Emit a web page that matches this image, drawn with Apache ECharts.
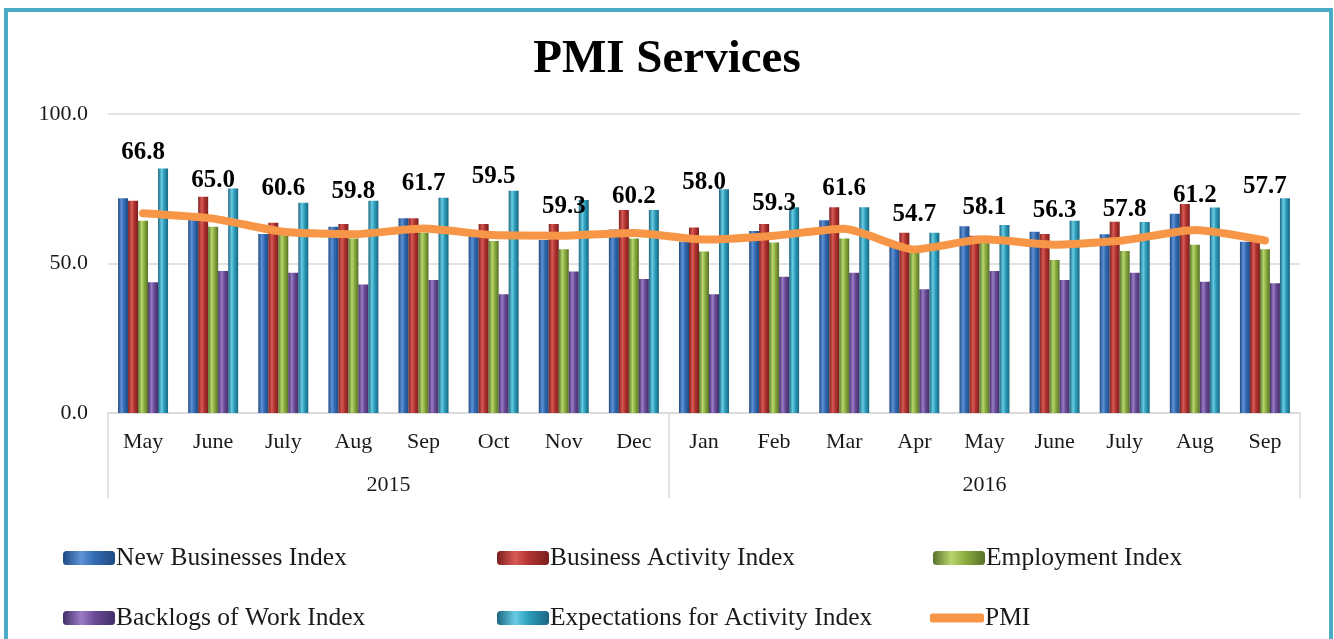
<!DOCTYPE html>
<html lang="en">
<head>
    <meta charset="UTF-8">
    <title>PMI Services</title>
    <script src="https://cdn.jsdelivr.net/npm/echarts@6.0.0/dist/echarts.min.js"></script>
    <style>
        body { margin: 0; background: #fff; }
        #frame { position: absolute; left: 4px; top: 8px; width: 1321px; height: 700px; border: 4px solid #4bacc6; }
        #main { position: absolute; left: 0; top: 0; width: 1334px; height: 639px; }
    </style>
</head>
<body>
    <div id="frame"></div>
    <div id="main"></div>
    <script type="text/javascript">
        // Data
        const months = ['May', 'June', 'July', 'Aug', 'Sep', 'Oct', 'Nov', 'Dec',
                        'Jan', 'Feb', 'Mar', 'Apr', 'May', 'June', 'July', 'Aug', 'Sep'];
        const years = ['2015', '2016'];
        const newBusiness = [71.8, 66.8, 59.9, 62.3, 65.1, 60.0, 57.9, 61.4, 57.3, 60.9, 64.5, 55.6, 62.5, 60.6, 59.8, 66.6, 57.3];
        const businessActivity = [71.0, 72.3, 63.6, 63.2, 65.1, 63.2, 63.2, 67.9, 62.0, 63.2, 68.8, 60.3, 59.3, 59.9, 64.0, 69.9, 58.5];
        const employment = [64.3, 62.3, 61.8, 58.4, 60.3, 57.5, 54.8, 58.4, 54.0, 57.0, 58.4, 53.6, 57.0, 51.2, 54.2, 56.3, 54.8];
        const backlogs = [43.7, 47.5, 46.9, 43.0, 44.5, 39.7, 47.3, 44.8, 39.7, 45.6, 46.9, 41.4, 47.5, 44.5, 46.9, 43.9, 43.4];
        const expectations = [81.8, 75.1, 70.3, 71.0, 72.0, 74.3, 71.2, 67.9, 74.8, 68.8, 68.8, 60.3, 62.9, 64.3, 63.9, 68.7, 71.8];
        const pmi = [66.8, 65.0, 60.6, 59.8, 61.7, 59.5, 59.3, 60.2, 58.0, 59.3, 61.6, 54.7, 58.1, 56.3, 57.8, 61.2, 57.7];

        // how far each PMI label sits above its point (px), as placed in the original
        const labelLift = [60, 37, 42, 42, 44, 58, 28, 35, 56, 31, 39, 34, 31, 33, 30, 33, 53];

        const font = '"Liberation Serif", "DejaVu Serif", serif';
        const textColor = '#1a1a1a';

        // cylinder-like shading for the bars
        function shade(dark, light, mid) {
            return new echarts.graphic.LinearGradient(0, 0, 1, 0, [
                { offset: 0, color: dark },
                { offset: 0.35, color: light },
                { offset: 0.6, color: mid },
                { offset: 1, color: dark }
            ]);
        }

        const barDefs = [
            { name: 'New Businesses Index', data: newBusiness, c: shade('#1f4a82', '#5f92d6', '#336bb3') },
            { name: 'Business Activity Index', data: businessActivity, c: shade('#7a1f1d', '#d85a56', '#b33431') },
            { name: 'Employment Index', data: employment, c: shade('#56712a', '#b8d66f', '#8daf40') },
            { name: 'Backlogs of Work Index', data: backlogs, c: shade('#432e66', '#9b7cc6', '#6b4c98') },
            { name: 'Expectations for Activity Index', data: expectations, c: shade('#1a6680', '#6acbe3', '#2d9fbd') }
        ];

        let series = barDefs.map((b) => ({
            name: b.name,
            type: 'bar',
            data: b.data,
            barWidth: 10,
            barGap: '0%',
            itemStyle: { color: b.c }
        }));

        series.push({
            name: 'PMI',
            type: 'line',
            data: pmi.map((v, i) => ({ value: v, label: { offset: [0, -(labelLift[i] - 12)] } })),
            symbol: 'circle',
            symbolSize: 1,
            showSymbol: true,
            smooth: 0.2,
            z: 5,
            lineStyle: { color: '#f79646', width: 8, cap: 'round', join: 'round' },
            itemStyle: { color: '#f79646' },
            label: {
                show: true,
                position: 'top',
                distance: 0,
                formatter: (p) => p.value.toFixed(1),
                fontFamily: font,
                fontWeight: 'bold',
                fontSize: 25,
                color: '#000'
            }
        });

        // one legend per slot so the columns line up like the original
        const legendSlots = [
            ['New Businesses Index', 58, 540],
            ['Business Activity Index', 492, 540],
            ['Employment Index', 928, 540],
            ['Backlogs of Work Index', 58, 600],
            ['Expectations for Activity Index', 492, 600],
            ['PMI', 925, 600]
        ];
        const legends = legendSlots.map(([name, x, y]) => {
            const isLine = name === 'PMI';
            return {
                data: [isLine ? { name: name, icon: 'roundRect' } : name],
                left: x,
                top: y,
                itemWidth: isLine ? 54 : 52,
                itemHeight: isLine ? 9 : 14,
                selectedMode: false,
                textStyle: { fontFamily: font, fontSize: 25.5, color: textColor, padding: [0, 0, 0, -4] }
            };
        });

        let myChart = echarts.init(document.getElementById('main'));
        let options = {
            animation: false,
            title: {
                text: 'PMI Services',
                left: 'center',
                top: 31,
                textStyle: { fontFamily: font, fontWeight: 'bold', fontSize: 47, color: '#000' }
            },
            legend: legends,
            grid: { left: 108, right: 34, top: 114, bottom: 226 },
            xAxis: [
                {
                    type: 'category',
                    data: months,
                    axisTick: { show: false },
                    axisLine: { lineStyle: { color: '#d9d9d9', width: 1.5 } },
                    axisLabel: { fontFamily: font, fontSize: 22, color: textColor, margin: 18 }
                },
                {
                    // year band under the months
                    type: 'value',
                    min: -0.5,
                    max: 16.5,
                    interval: 0.5,
                    position: 'bottom',
                    axisLine: { show: false },
                    splitLine: { show: false },
                    axisTick: {
                        show: true,
                        length: 85,
                        customValues: [-0.5, 7.5, 16.5],
                        lineStyle: { color: '#d9d9d9', width: 1.5 }
                    },
                    axisLabel: {
                        customValues: [3.5, 12],
                        formatter: (v) => (v < 8 ? years[0] : years[1]),
                        fontFamily: font,
                        fontSize: 22,
                        color: textColor,
                        margin: 61
                    }
                }
            ],
            yAxis: {
                type: 'value',
                min: 0,
                max: 100,
                interval: 50,
                axisLine: { show: false },
                axisTick: { show: false },
                splitLine: { lineStyle: { color: '#d9d9d9', width: 1.5 } },
                axisLabel: {
                    formatter: (v) => v.toFixed(1),
                    fontFamily: font,
                    fontSize: 22,
                    color: textColor,
                    margin: 20
                }
            },
            series: series
        };

        myChart.setOption(options);
    </script>
</body>
</html>
